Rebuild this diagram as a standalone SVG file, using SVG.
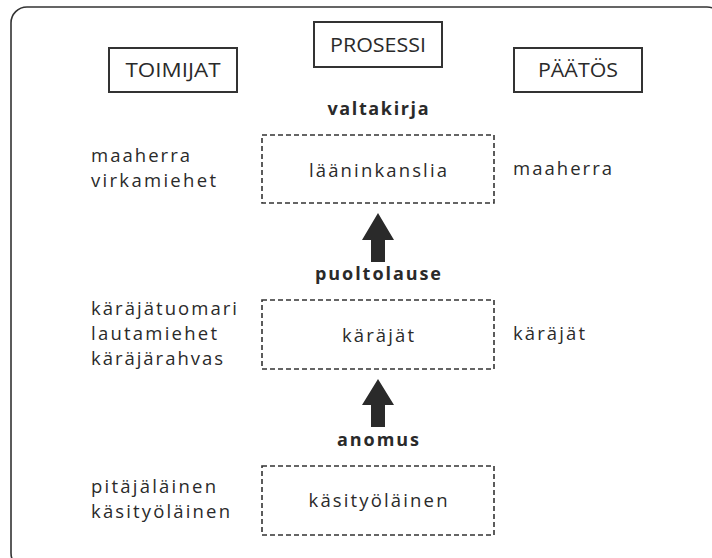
<svg xmlns="http://www.w3.org/2000/svg" width="712" height="558" viewBox="0 0 712 558">
<style>
text { font-family: "Open Sans", "Liberation Sans", sans-serif; fill: #2a2a2a; }
.hdr { font-size: 19.5px; text-anchor: middle; }
.lbl { font-size: 18.5px; }
.mid { text-anchor: middle; }
.bold { font-size: 18px; font-weight: bold; text-anchor: middle; }
.hbox { fill: none; stroke: #333; stroke-width: 2; }
.dbox { fill: none; stroke: #333; stroke-width: 1.6; stroke-dasharray: 5 3; }
.arrow { fill: #2a2a2a; }
</style>
<rect x="11" y="7" width="712" height="562" rx="16" fill="none" stroke="#333" stroke-width="1.6"/>
<g id="toimijat"><rect class="hbox" x="109" y="48" width="128" height="44"/><text class="hdr" x="173" y="77" textLength="95" lengthAdjust="spacingAndGlyphs">TOIMIJAT</text></g>
<g id="prosessi"><rect class="hbox" x="314" y="22" width="128" height="45"/><text class="hdr" x="378" y="52" textLength="96" lengthAdjust="spacingAndGlyphs">PROSESSI</text></g>
<g id="paatos"><rect class="hbox" x="514" y="48" width="128" height="44"/><text class="hdr" x="578" y="77" textLength="80" lengthAdjust="spacingAndGlyphs">PÄÄTÖS</text></g>
<g id="laaninkanslia"><rect class="dbox" x="262" y="135" width="232" height="68"/><text class="lbl mid" x="378" y="177" textLength="138" lengthAdjust="spacing">lääninkanslia</text></g>
<g id="karajat"><rect class="dbox" x="262" y="300" width="232" height="69"/><text class="lbl mid" x="378" y="342" textLength="72" lengthAdjust="spacing">käräjät</text></g>
<g id="kasityolainen"><rect class="dbox" x="262" y="466" width="232" height="69"/><text class="lbl mid" x="378" y="507" textLength="139" lengthAdjust="spacing">käsityöläinen</text></g>
<g id="connectors">
<polygon class="arrow" points="378,213 394,240 385,240 385,262 371,262 371,240 362,240"/>
<polygon class="arrow" points="378,379 394,405 385,405 385,427 371,427 371,405 362,405"/>
</g>
<g id="labels">
<text class="bold" x="378" y="115" textLength="101" lengthAdjust="spacing">valtakirja</text>
<text class="bold" x="378" y="280" textLength="126" lengthAdjust="spacing">puoltolause</text>
<text class="bold" x="378" y="446" textLength="82" lengthAdjust="spacing">anomus</text>
</g>
<g id="toimijat-list">
<text class="lbl" x="91" y="162" textLength="99" lengthAdjust="spacing">maaherra</text>
<text class="lbl" x="91" y="187" textLength="125" lengthAdjust="spacing">virkamiehet</text>
<text class="lbl" x="91" y="315" textLength="146" lengthAdjust="spacing">käräjätuomari</text>
<text class="lbl" x="91" y="340" textLength="126" lengthAdjust="spacing">lautamiehet</text>
<text class="lbl" x="91" y="365" textLength="132" lengthAdjust="spacing">käräjärahvas</text>
<text class="lbl" x="91" y="493" textLength="125" lengthAdjust="spacing">pitäjäläinen</text>
<text class="lbl" x="91" y="518" textLength="139" lengthAdjust="spacing">käsityöläinen</text>
</g>
<g id="paatos-list">
<text class="lbl" x="513" y="175" textLength="99" lengthAdjust="spacing">maaherra</text>
<text class="lbl" x="513" y="340" textLength="72" lengthAdjust="spacing">käräjät</text>
</g>
</svg>
